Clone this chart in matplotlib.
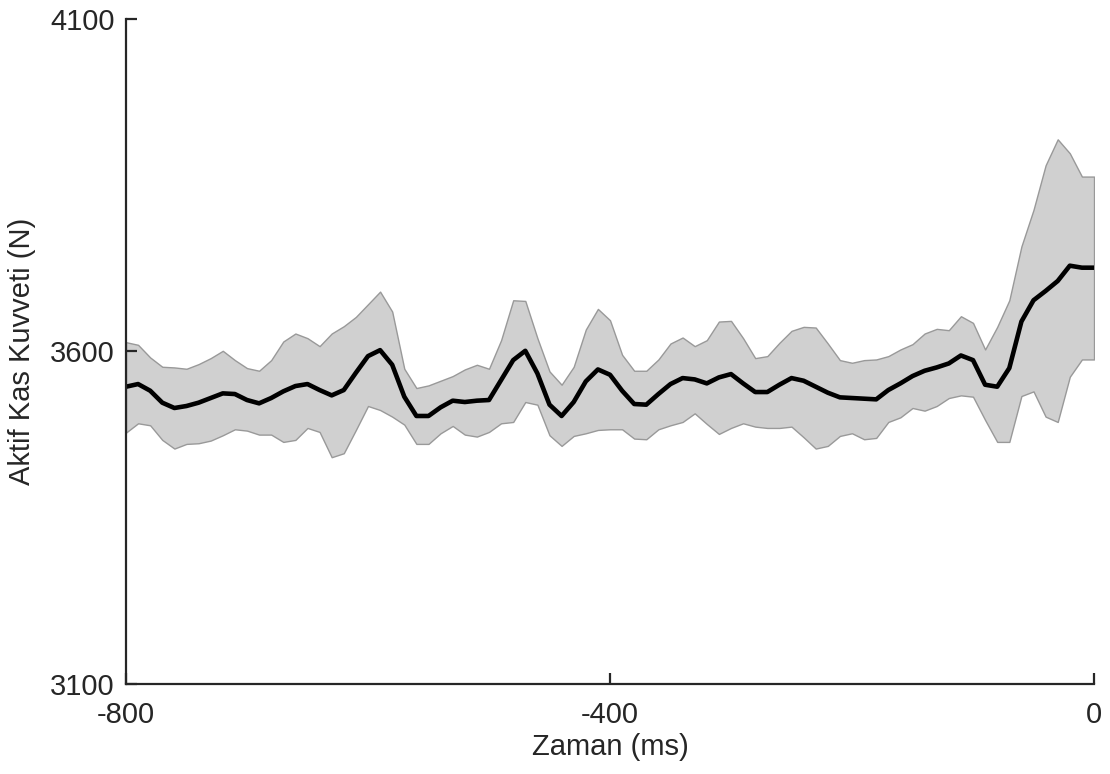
import numpy as np
import matplotlib
matplotlib.use("Agg")
import matplotlib.pyplot as plt

plt.rcParams['font.family'] = ['Liberation Sans', 'DejaVu Sans']

time_ms = np.arange(-800, 1, 10)

mean_force = [3547, 3551, 3541, 3523, 3515, 3518, 3523, 3530, 3537, 3536,
              3527, 3522, 3530, 3540, 3548, 3551, 3542, 3534, 3542, 3568,
              3593, 3602, 3580, 3532, 3503, 3503, 3516, 3526, 3524, 3526,
              3527, 3557, 3587, 3601, 3567, 3520, 3503, 3524, 3555, 3573,
              3565, 3541, 3521, 3520, 3536, 3551, 3560, 3558, 3552, 3561,
              3566, 3552, 3539, 3539, 3550, 3560, 3556, 3547, 3538, 3531,
              3530, 3529, 3528, 3542, 3552, 3563, 3571, 3576, 3582, 3594,
              3587, 3550, 3547, 3575, 3645, 3677, 3691, 3706, 3729, 3726,
              3726]

upper_force = [3614, 3610, 3591, 3577, 3576, 3574, 3581, 3590, 3601, 3587,
               3575, 3571, 3587, 3615, 3627, 3620, 3608, 3627, 3638, 3652,
               3671, 3690, 3660, 3574, 3545, 3549, 3556, 3563, 3573, 3580,
               3574, 3617, 3677, 3676, 3620, 3570, 3550, 3577, 3633, 3664,
               3647, 3595, 3571, 3571, 3588, 3612, 3621, 3608, 3617, 3645,
               3646, 3620, 3590, 3593, 3613, 3631, 3637, 3636, 3612, 3587,
               3583, 3587, 3588, 3593, 3603, 3611, 3627, 3634, 3632, 3653,
               3643, 3603, 3637, 3677, 3758, 3813, 3880, 3919, 3898, 3863,
               3863]

lower_force = [3478, 3492, 3489, 3467, 3454, 3461, 3462, 3466, 3474, 3483,
               3481, 3475, 3475, 3464, 3467, 3485, 3479, 3441, 3447, 3482,
               3518, 3512, 3502, 3490, 3461, 3461, 3477, 3488, 3475, 3472,
               3479, 3492, 3494, 3524, 3520, 3474, 3458, 3473, 3477, 3482,
               3483, 3483, 3469, 3468, 3483, 3489, 3494, 3507, 3491, 3476,
               3485, 3492, 3487, 3485, 3485, 3487, 3471, 3454, 3458, 3473,
               3477, 3468, 3470, 3494, 3501, 3515, 3511, 3518, 3530, 3534,
               3532, 3497, 3464, 3464, 3533, 3540, 3502, 3494, 3562, 3588,
               3588]

x_ticks = [-800, -400, 0]
y_ticks = [3100, 3600, 4100]

fig = plt.figure(figsize=(11.1, 7.74), dpi=100)
ax = fig.add_axes([0.1135, 0.1163, 0.8721, 0.8592])

ax.fill_between(time_ms, lower_force, upper_force, facecolor='#d0d0d0',
                edgecolor='#999999', linewidth=1.0, zorder=1)
ax.plot(time_ms, mean_force, color='black', linewidth=3.3, zorder=2)

ax.set_xlim(-800, 0)
ax.set_ylim(3100, 4100)
ax.set_xticks(x_ticks)
ax.set_yticks(y_ticks)
ax.set_xticklabels([str(v) for v in x_ticks])
ax.set_yticklabels([str(v) for v in y_ticks])

for s in ['top', 'right']:
    ax.spines[s].set_visible(False)
for s in ['left', 'bottom']:
    ax.spines[s].set_color('#262626')
    ax.spines[s].set_linewidth(1.6)

ax.tick_params(axis='both', direction='in', length=8, width=1.6,
               colors='#262626', labelsize=21)
ax.tick_params(axis='x', pad=12)
ax.tick_params(axis='y', pad=8)

ax.set_xlabel('Zaman (ms)', fontsize=21, color='#262626', labelpad=3)
ax.set_ylabel('Aktif Kas Kuvveti (N)', fontsize=21, color='#262626', labelpad=10)

fig.savefig('out.png', dpi=100)
